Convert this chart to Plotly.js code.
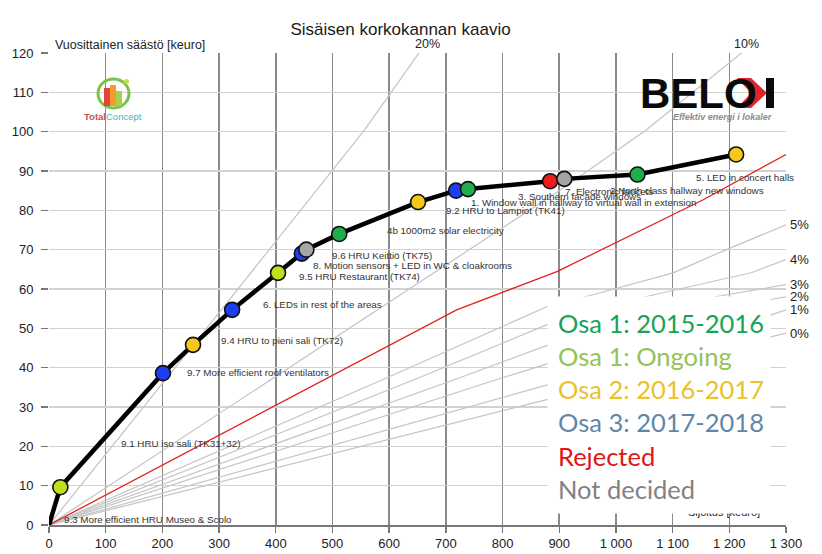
<!DOCTYPE html>
<html><head><meta charset="utf-8">
<script src="https://cdn.plot.ly/plotly-3.0.1.min.js"></script>
<style>html,body{margin:0;padding:0;background:#fff}</style>
</head><body><div id="chart" style="width:822px;height:554px"></div>
<script>
// ---------- data ----------
const investment = [0, 20, 201, 254, 323, 404, 446, 454, 512, 651, 718, 739, 884, 909, 1038, 1212];
const savings    = [0, 9.6, 38.6, 45.8, 54.7, 64.1, 69.0, 70.0, 74.0, 82.1, 85.0, 85.4, 87.4, 88.0, 89.1, 94.2];
const status = ['start', 'ongoing', 'osa3', 'osa2', 'osa3', 'ongoing', 'osa3', 'undecided', 'osa1', 'osa2', 'osa3', 'osa1', 'rejected', 'undecided', 'osa1', 'osa2'];
const projectLabels = [
  '', '9.3 More efficient HRU Museo & Scolo', '9.1 HRU iso sali (TK31+32)', '9.7 More efficient roof ventilators',
  '9.4 HRU to pieni sali (TK72)', '6. LEDs in rest of the areas', '9.5 HRU Restaurant (TK74)',
  '8. Motion sensors + LED in WC & cloakrooms', '9.6 HRU Keittiö (TK75)', '4b 1000m2 solar electricity',
  '9.2 HRU to Lampiot (TK41)', '1. Window wall in hallway to virtual wall in extension', '3. Southern facade windows',
  '7. Electronic faucets', '2.North class hallway new windows', '5. LED in concert halls'
];
// internal rate of return reference curves
const irr20X = [0, 278, 557, 655];            const irr20Y = [0, 50, 100.5, 120.5];
const irr10X = [0, 740, 900, 1054, 1230];     const irr10Y = [0, 70, 85, 100.5, 121];
const irr5X  = [0, 589, 880, 948, 1101, 1201, 1300]; const irr5Y = [0, 37, 55.6, 58.1, 64.1, 70.4, 76.3];
const irr4X  = [0, 645, 900, 1054, 1240, 1300]; const irr4Y = [0, 37, 52.2, 58.1, 64.2, 67.5];
const irr3X  = [0, 716, 900, 1178, 1300];     const irr3Y = [0, 37, 46.8, 58.1, 61.1];
const irr2X  = [0, 790, 900, 1275, 1300];     const irr2Y = [0, 37, 41.9, 57.4, 58.0];
const irr1X  = [0, 901, 1275, 1300];          const irr1Y = [0, 36.5, 53.5, 54.7];
const irr0X  = [0, 901, 1275, 1300];          const irr0Y = [0, 32.7, 47.9, 48.8];
const requiredX = [0, 719, 897, 1154, 1300];  const requiredY = [0, 54.7, 64.5, 82.7, 94.2];
const topRateNames = ['20%', '10%'];
const sideRateNames = ['5%', '4%', '3%', '2%', '1%', '0%'];
const legendNames = ['Osa 1: 2015-2016', 'Osa 1: Ongoing', 'Osa 2: 2016-2017', 'Osa 3: 2017-2018', 'Rejected', 'Not decided'];

// ---------- styles ----------
const markerColor = {osa1:'#1fae4a', ongoing:'#bde21c', osa2:'#f6c81c', osa3:'#1c3df2', rejected:'#ee1c1c', undecided:'#a5a5a5'};
const legendColor = ['#17a356', '#92c35a', '#e9c22e', '#5f88a8', '#e01515', '#828282'];
const L = 49, T = 53, W = 737, H = 472;
const X = px => (px - L) / W * 1300;
const Y = py => (T + H - py) / H * 120;
// label anchor positions (pixel space of the reference)
const labelPx = [null, [62,519],[119,443],[185,372],[219,340],[261,304],[297,276],[311,265],[330,255.5],[385,230.7],[444,210],[469,202.7],[516,196.7],[563,191.5],[607.7,190],[694,177.7]];

const traces = [];
const grayLine = {color:'#c4c4c4', width:1.2};
[[irr20X, irr20Y], [irr10X, irr10Y], [irr5X, irr5Y], [irr4X, irr4Y], [irr3X, irr3Y], [irr2X, irr2Y], [irr1X, irr1Y], [irr0X, irr0Y]]
  .forEach(([xs, ys]) => traces.push({x: xs, y: ys, mode:'lines', line: grayLine, hoverinfo:'skip', showlegend:false}));
traces.push({x: requiredX, y: requiredY, mode:'lines', line:{color:'#e2231f', width:1.3}, hoverinfo:'skip', showlegend:false});
traces.push({x: investment, y: savings, mode:'lines', line:{color:'#000', width:4.5}, showlegend:false});
traces.push({x: investment.slice(1), y: savings.slice(1), mode:'markers', showlegend:false,
  marker:{size:15, color: status.slice(1).map(s => markerColor[s]), line:{color:'#111', width:1.6}}});

const annotations = [];
projectLabels.forEach((t, i) => {
  if (!t) return;
  annotations.push({x: X(labelPx[i][0]), y: Y(labelPx[i][1]), xref:'x', yref:'y', text: t, showarrow:false,
    xanchor:'left', yanchor:'middle', font:{family:'Arial, Liberation Sans', size:9.8, color:'#333'}});
});
// top rate labels
[[irr20X, topRateNames[0], 7], [irr10X, topRateNames[1], 0]].forEach(([xs, name, sh]) => {
  annotations.push({x: xs[xs.length-1], y: 120, xref:'x', yref:'y', text: name, showarrow:false, xshift: sh, yshift: 9,
    xanchor:'center', yanchor:'middle', font:{family:'Arial', size:12.5, color:'#222'}});
});
// side rate labels
[irr5Y, irr4Y, irr3Y, irr2Y, irr1Y, irr0Y].forEach((ys, i) => {
  annotations.push({x: 1300, y: ys[ys.length-1], xref:'x', yref:'y', text: sideRateNames[i], showarrow:false, xshift: 2,
    xanchor:'left', yanchor:'middle', font:{family:'Arial', size:13, color:'#222'}});
});
// axis titles
annotations.push({x: X(53), y: 120, xref:'x', yref:'y', yshift: 8, text:'Vuosittainen säästö [keuro]', showarrow:false,
  xanchor:'left', yanchor:'middle', font:{family:'Arial', size:12.5, color:'#222'}});
annotations.push({x: X(724), y: Y(512), xref:'x', yref:'y', text:'Sijoitus [keuro]', showarrow:false,
  xanchor:'center', yanchor:'middle', font:{family:'Arial', size:11, color:'#222'}});
// legend box (white) and legend text
annotations.push({x: X(659), y: Y(405), xref:'x', yref:'y', text:' ', showarrow:false, width:222, height:216,
  bgcolor:'#fff', borderpad:0, xanchor:'center', yanchor:'middle'});
annotations.push({x: X(556), y: Y(406), xref:'x', yref:'y', showarrow:false, xanchor:'left', yanchor:'middle', align:'left',
  text: legendNames.map((n, i) => '<span style="color:' + legendColor[i] + '">' + n + '</span>').join('<br>'),
  font:{family:'Lato, Open Sans', size:25.5, color:'#333'}});
// logos
annotations.push({x: X(638), y: Y(93), xref:'x', yref:'y', text:'<b>BELO</b>', showarrow:false, xanchor:'left', yanchor:'middle',
  font:{family:'Liberation Sans Narrow, Arial Narrow, Arial', size:42, color:'#0a0a0a'}});
annotations.push({x: X(774), y: Y(117), xref:'x', yref:'y', text:'<b><i>Effektiv energi i lokaler</i></b>', showarrow:false, xanchor:'right', yanchor:'middle',
  font:{family:'Arial', size:9, color:'#8c8c8c'}});
annotations.push({x: X(113), y: Y(116), xref:'x', yref:'y', showarrow:false, xanchor:'center', yanchor:'middle',
  text:'<b><span style="color:#c8524a">Total</span></b><span style="color:#49b3c0">Concept</span>', font:{family:'Arial', size:9.5}});

const pathPx = pts => 'M' + pts.map(p => X(p[0]) + ',' + Y(p[1])).join(' L') + ' Z';
const shapes = [
  {type:'path', xref:'x', yref:'y', path: pathPx([[737,78],[751,78],[767,93],[751,108],[737,108],[751,93]]), fillcolor:'#e3232a', line:{width:0}},
  {type:'rect', xref:'x', yref:'y', x0:X(766), x1:X(774), y0:Y(78), y1:Y(108), fillcolor:'#0a0a0a', line:{width:0}},
  {type:'circle', xref:'x', yref:'y', x0:X(98), x1:X(129), y0:Y(79), y1:Y(108), fillcolor:'rgba(255,255,255,0)', line:{color:'#7cc24a', width:3}},
  {type:'rect', xref:'x', yref:'y', x0:X(104), x1:X(110), y0:Y(88), y1:Y(106), fillcolor:'#e0453a', line:{width:0}},
  {type:'rect', xref:'x', yref:'y', x0:X(110), x1:X(116), y0:Y(85), y1:Y(106), fillcolor:'#f39a34', line:{width:0}},
  {type:'rect', xref:'x', yref:'y', x0:X(116), x1:X(122), y0:Y(91), y1:Y(106), fillcolor:'#a5d24a', line:{width:0}},
  {type:'circle', xref:'x', yref:'y', x0:X(124), x1:X(129), y0:Y(79), y1:Y(84), fillcolor:'#c7e04a', line:{width:0}}
];

const layout = {
  width: 822, height: 554,
  margin: {l: L, r: 822 - L - W, t: T, b: 554 - T - H},
  paper_bgcolor:'#fff', plot_bgcolor:'#fff',
  separators: ', ',
  title: {text:'Sisäisen korkokannan kaavio', font:{family:'Arial', size:17, color:'#1a1a1a'},
    xref:'paper', x: 0.477, xanchor:'center', yref:'container', y: 1 - 29/554, yanchor:'middle'},
  showlegend:false,
  xaxis: {range:[0, 1300], dtick:100, tickformat:',d', showgrid:true, gridcolor:'#8a8a8a', gridwidth:1.6,
    zeroline:false, showline:true, linecolor:'#777', linewidth:1.6, ticks:'outside', ticklen:6, tickcolor:'#777', tickwidth:1.4,
    tickfont:{family:'Arial', size:13, color:'#222'}, fixedrange:true},
  yaxis: {range:[0, 120], dtick:10, showgrid:true, gridcolor:'#d2d2d2', gridwidth:1.6, zeroline:false,
    ticks:'outside', ticklen:7, tickcolor:'#777', tickwidth:1.4, ticklabelstandoff:5,
    tickfont:{family:'Arial', size:13, color:'#222'}, fixedrange:true},
  annotations: annotations,
  shapes: shapes
};
Plotly.newPlot('chart', traces, layout, {displayModeBar:false, staticPlot:true});
</script>
</body></html>
